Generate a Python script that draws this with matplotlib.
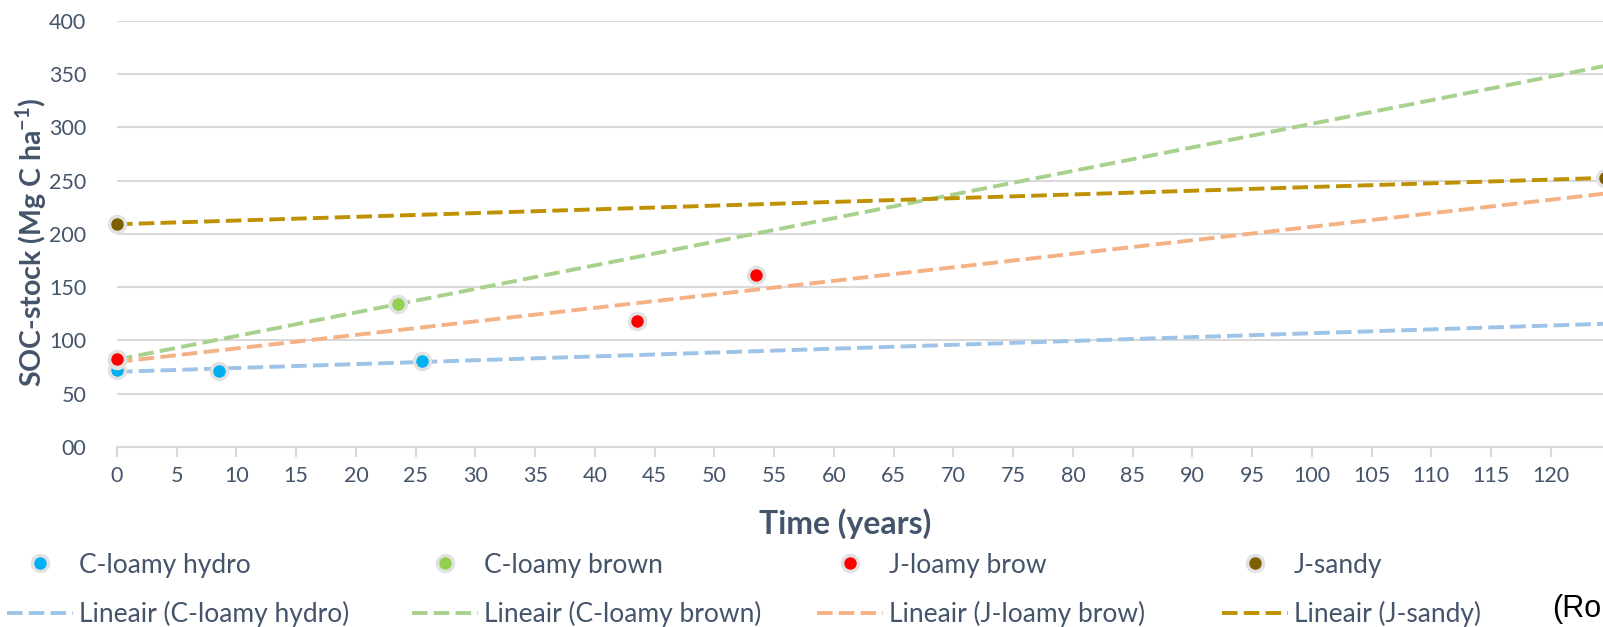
import matplotlib.pyplot as plt
from matplotlib.lines import Line2D
import numpy as np

plt.rcParams['font.family'] = ['Lato', 'DejaVu Sans']

# data
names = ["C-loamy hydro", "C-loamy brown", "J-loamy brow", "J-sandy"]
years = [
    [0, 8.5, 25.5],
    [0, 23.5],
    [0, 43.5, 53.5],
    [0, 124.5],
]
soc = [
    [72, 71.4, 80.5],
    [82, 134],
    [83, 118, 161.5],
    [209, 252.5],
]
point_colors = ["#00B0F0", "#92D050", "#FF0000", "#7F6000"]
trend_colors = ["#9DC3E6", "#A9D18E", "#F4B183", "#BF9000"]

x_ticks = list(range(0, 125, 5))
y_ticks = list(range(0, 401, 50))
y_labels = ["00"] + [str(v) for v in y_ticks[1:]]

txt = "#44546A"
grid = "#D9D9D9"

fig = plt.figure(figsize=(16.03, 6.27), dpi=100)
ax = fig.add_axes([117 / 1603, 1 - 447 / 627, 1 - 117 / 1603 + 0.001, (447 - 20.7) / 627])

x_end = 124.5
xs = np.array([0, x_end])
handles = []
for i, name in enumerate(names):
    k, b = np.polyfit(years[i], soc[i], 1)
    ln, = ax.plot(xs, k * xs + b, color=trend_colors[i], lw=2.8,
                  dashes=(4, 1.6), zorder=2)
    ax.plot(years[i], soc[i], "o", color=point_colors[i], ms=11.5,
            mec="#E2E2E2", mew=2.5, zorder=3, clip_on=False)
    pt = Line2D([], [], ls="none", marker="o", color=point_colors[i], ms=11.5,
                mec="#E2E2E2", mew=2.5)
    handles.append((pt, ln))

ax.set_xlim(0, x_end)
ax.set_ylim(0, 400)
ax.set_xticks(x_ticks)
ax.set_yticks(y_ticks)
ax.set_yticklabels(y_labels)
ax.tick_params(axis="x", colors=grid, labelcolor=txt, labelsize=15.5, length=7, width=1.5, pad=7)
ax.tick_params(axis="y", length=0, labelcolor=txt, labelsize=15.5, pad=22)
for s in ["top", "right", "left"]:
    ax.spines[s].set_visible(False)
ax.spines["bottom"].set_color(grid)
ax.spines["bottom"].set_linewidth(1.5)
ax.grid(axis="y", color=grid, lw=1.5)
ax.set_axisbelow(True)

fig.text(845 / 1603, 1 - 524 / 627, "Time (years)", fontsize=23, fontweight="bold",
         color=txt, ha="center", va="center")
fig.text(31 / 1603, 1 - 242 / 627, "SOC-stock (Mg C ha$^{\\mathregular{-1}}$)", rotation=90,
         fontsize=20.5, fontweight="bold", color=txt, ha="center", va="center")

# legend, one column per series
col_x = [0, 405, 810, 1215]
for i, name in enumerate(names):
    pt, ln = handles[i]
    lg = fig.legend([pt, ln], [name, "Lineair (" + name + ")"],
                    loc="upper left", bbox_to_anchor=(col_x[i] / 1603 - 0.002, 1 - 542 / 627),
                    frameon=False, fontsize=19, handlelength=2.5, handletextpad=0.2,
                    labelspacing=0.88, labelcolor=txt, borderaxespad=0)

fig.text(1552 / 1603, 1 - 609 / 627, "(Ro", fontsize=22, color="black",
         family="Liberation Sans", ha="left", va="center")

fig.savefig("out.png", dpi=100)
